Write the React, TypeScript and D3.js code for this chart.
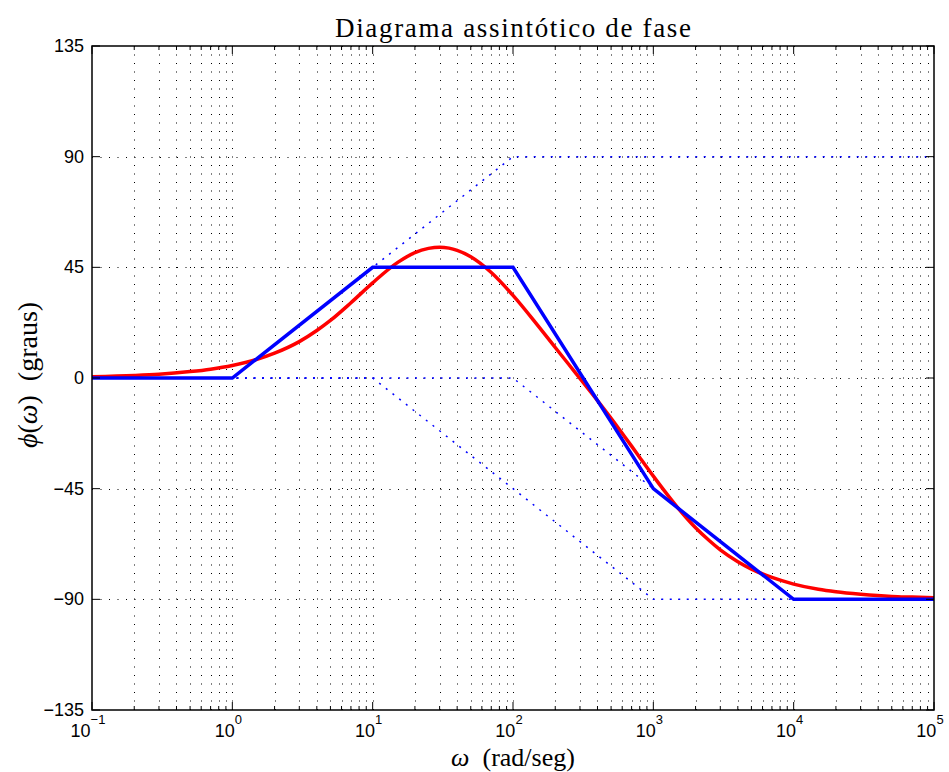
import React, { useRef, useEffect } from 'react';
import * as d3 from 'd3';

// asymptotic phase plot: zero at 10, poles at 100 and 1000

const W = 949;
const H = 772;
const margin = { left: 92, right: 15, top: 46, bottom: 62 };

const yTicks = [-135, -90, -45, 0, 45, 90, 135];
const xDecades = [-1, 0, 1, 2, 3, 4, 5];

// exact phase (red)
const exactW = [0.1, 0.2, 0.3, 0.5, 0.7, 1, 1.5, 2, 3, 4, 5, 7, 10, 15, 20, 25, 30, 35, 40, 50, 70, 100, 150, 200, 250, 300, 400, 500, 600, 700, 800, 1000, 1200, 1500, 2000, 2500, 3000, 4000, 5000, 7000, 10000, 15000, 20000, 30000, 50000, 70000, 100000];
const exactPhase = [0.5, 1.0, 1.5, 2.6, 3.6, 5.1, 7.6, 10.1, 14.8, 19.3, 23.4, 30.6, 38.7, 46.9, 51.0, 52.7, 53.2, 52.8, 51.9, 49.3, 42.9, 33.6, 21.4, 12.4, 5.5, -0.2, -9.2, -16.4, -22.5, -27.7, -32.3, -39.9, -45.9, -52.9, -60.9, -66.1, -69.9, -74.7, -77.7, -81.1, -83.8, -85.9, -86.9, -87.9, -88.8, -89.1, -89.4];

// asymptotic sum (blue solid)
const asymW = [0.1, 1, 10, 100, 1000, 10000, 100000];
const asymPhase = [0, 0, 45, 45, -45, -90, -90];

// individual asymptotes (blue dotted)
const zeroW = [0.1, 1, 100, 100000];
const zeroPhase = [0, 0, 90, 90];
const pole1W = [0.1, 10, 1000, 100000];
const pole1Phase = [0, 0, -90, -90];
const pole2W = [0.1, 100, 10000, 100000];
const pole2Phase = [0, 0, -90, -90];

const App = () => {
    const svgRef = useRef(null);

    useEffect(() => {
        const svg = d3.select(svgRef.current);
        svg.selectAll('*').remove();

        const x = d3.scaleLog().domain([0.1, 100000]).range([margin.left, W - margin.right]);
        const y = d3.scaleLinear().domain([-135, 135]).range([H - margin.bottom, margin.top]);
        const x0 = margin.left, x1 = W - margin.right;
        const y0 = H - margin.bottom, y1 = margin.top;

        svg.append('rect').attr('x', 0).attr('y', 0).attr('width', W).attr('height', H).attr('fill', '#fff');

        const grid = svg.append('g');
        // vertical grid: every decade plus 2..9
        const xGrid = [];
        xDecades.forEach(d => {
            for (let k = 1; k <= 9; k++) {
                const v = k * Math.pow(10, d);
                if (v > 0.1 && v < 100000) xGrid.push(v);
            }
        });
        grid.selectAll('line.vg')
            .data(xGrid)
            .join('line')
            .attr('x1', d => Math.round(x(d)) + 0.5)
            .attr('x2', d => Math.round(x(d)) + 0.5)
            .attr('y1', y0)
            .attr('y2', y1)
            .attr('stroke', '#000')
            .attr('stroke-width', 1)
            .attr('stroke-dasharray', '1,7.5');
        grid.selectAll('line.hg')
            .data(yTicks.filter(t => t > -135 && t < 135))
            .join('line')
            .attr('x1', x0)
            .attr('x2', x1)
            .attr('y1', d => Math.round(y(d)) + 0.5)
            .attr('y2', d => Math.round(y(d)) + 0.5)
            .attr('stroke', '#000')
            .attr('stroke-width', 1)
            .attr('stroke-dasharray', '1,7.5');

        const line = d3.line().x(d => x(d[0])).y(d => y(d[1]));
        const smooth = d3.line().x(d => x(d[0])).y(d => y(d[1])).curve(d3.curveMonotoneX);

        const dotted = [
            d3.zip(zeroW, zeroPhase),
            d3.zip(pole1W, pole1Phase),
            d3.zip(pole2W, pole2Phase)
        ];
        svg.append('g').selectAll('path')
            .data(dotted)
            .join('path')
            .attr('d', d => line(d))
            .attr('fill', 'none')
            .attr('stroke', '#0000ff')
            .attr('stroke-width', 1.5)
            .attr('stroke-dasharray', '2,6.5');

        svg.append('path')
            .attr('d', smooth(d3.zip(exactW, exactPhase)))
            .attr('fill', 'none')
            .attr('stroke', '#ff0000')
            .attr('stroke-width', 3.5);

        svg.append('path')
            .attr('d', line(d3.zip(asymW, asymPhase)))
            .attr('fill', 'none')
            .attr('stroke', '#0000ff')
            .attr('stroke-width', 3.5);

        // axes box and ticks
        const ax = svg.append('g').attr('stroke', '#000');
        ax.append('rect')
            .attr('x', x0).attr('y', y1)
            .attr('width', x1 - x0).attr('height', y0 - y1)
            .attr('fill', 'none').attr('stroke-width', 1.5);

        const majorX = xDecades.map(d => Math.pow(10, d));
        const minorX = xGrid.filter(v => !majorX.some(m => Math.abs(m - v) < 1e-9));
        ax.selectAll('line.mt')
            .data(minorX)
            .join('line')
            .attr('x1', d => x(d)).attr('x2', d => x(d))
            .attr('y1', y0).attr('y2', y0 - 4)
            .attr('stroke-width', 1);
        ax.selectAll('line.mt2')
            .data(minorX)
            .join('line')
            .attr('x1', d => x(d)).attr('x2', d => x(d))
            .attr('y1', y1).attr('y2', y1 + 4)
            .attr('stroke-width', 1);
        ax.selectAll('line.Mt')
            .data(majorX)
            .join('line')
            .attr('x1', d => x(d)).attr('x2', d => x(d))
            .attr('y1', y0).attr('y2', y0 - 8)
            .attr('stroke-width', 1);
        ax.selectAll('line.Mt2')
            .data(majorX)
            .join('line')
            .attr('x1', d => x(d)).attr('x2', d => x(d))
            .attr('y1', y1).attr('y2', y1 + 8)
            .attr('stroke-width', 1);
        ax.selectAll('line.yt')
            .data(yTicks)
            .join('line')
            .attr('x1', x0).attr('x2', x0 + 8)
            .attr('y1', d => y(d)).attr('y2', d => y(d))
            .attr('stroke-width', 1);
        ax.selectAll('line.yt2')
            .data(yTicks)
            .join('line')
            .attr('x1', x1).attr('x2', x1 - 8)
            .attr('y1', d => y(d)).attr('y2', d => y(d))
            .attr('stroke-width', 1);

        const sans = 'Liberation Sans, Arial, Helvetica, sans-serif';
        svg.append('g').selectAll('text')
            .data(yTicks)
            .join('text')
            .attr('x', x0 - 8)
            .attr('y', d => y(d) + 6)
            .attr('text-anchor', 'end')
            .attr('font-family', sans)
            .attr('font-size', 18)
            .text(d => (d < 0 ? '\u2212' + Math.abs(d) : String(d)));

        const xl = svg.append('g').selectAll('text')
            .data(xDecades)
            .join('text')
            .attr('x', d => x(Math.pow(10, d)) - 4)
            .attr('y', 737)
            .attr('text-anchor', 'middle')
            .attr('font-family', sans)
            .attr('font-size', 18);
        xl.append('tspan').text('10');
        xl.append('tspan')
            .attr('dy', -13)
            .attr('font-size', 13)
            .text(d => (d < 0 ? '\u2212' + Math.abs(d) : String(d)));

        const serif = 'Liberation Serif, Times New Roman, serif';
        svg.append('text')
            .attr('x', (x0 + x1) / 2)
            .attr('y', 37)
            .attr('text-anchor', 'middle')
            .attr('font-family', serif)
            .attr('font-size', 27)
            .attr('textLength', 356)
            .attr('lengthAdjust', 'spacing')
            .text('Diagrama assintótico de fase');

        const xlab = svg.append('text')
            .attr('x', (x0 + x1) / 2)
            .attr('y', 766)
            .attr('text-anchor', 'middle')
            .attr('font-family', serif)
            .attr('font-size', 26);
        xlab.append('tspan').attr('font-style', 'italic').text('ω');
        xlab.append('tspan').text('\u00a0\u00a0(rad/seg)');

        const ylab = svg.append('text')
            .attr('transform', `translate(37,${(y0 + y1) / 2 - 3}) rotate(-90)`)
            .attr('text-anchor', 'middle')
            .attr('font-family', serif)
            .attr('font-size', 28);
        ylab.append('tspan').attr('font-style', 'italic').text('ϕ');
        ylab.append('tspan').text('(');
        ylab.append('tspan').attr('font-style', 'italic').text('ω');
        ylab.append('tspan').text(')\u00a0\u00a0(graus)');
    }, []);

    return (
        <svg ref={svgRef} width={W} height={H} style={{ position: 'absolute', left: 0, top: 0 }}></svg>
    );
};

export default App;
